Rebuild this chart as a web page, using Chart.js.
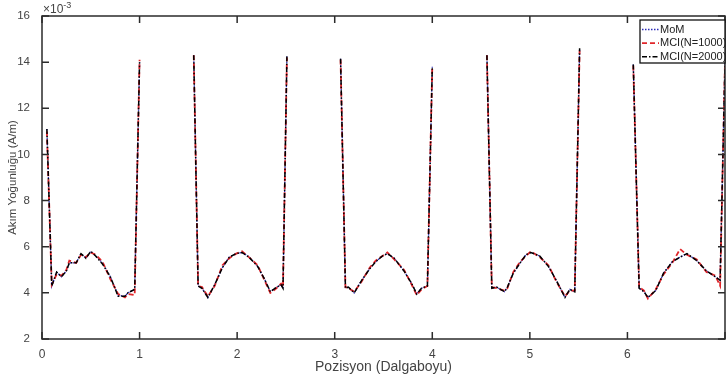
<!DOCTYPE html>
<html>
<head>
<meta charset="utf-8">
<script src="https://cdn.jsdelivr.net/npm/chart.js@4.4.0/dist/chart.umd.min.js"></script>
<style>
  html, body { margin: 0; padding: 0; background: #fff; }
  canvas { display: block; }
</style>
</head>
<body>
<canvas id="chart" width="726" height="378"></canvas>
<script>
// positions along the array (wavelengths); null rows split the five strips
const xPos = [
  0.05, 0.10, 0.15, 0.20, 0.25, 0.28, 0.35, 0.40, 0.45, 0.50, 0.55, 0.62, 0.70, 0.78, 0.85, 0.88, 0.95, 1.00,
  1.25,
  1.555, 1.60, 1.64, 1.70, 1.77, 1.85, 1.92, 1.99, 2.05, 2.12, 2.21, 2.28, 2.34, 2.39, 2.45, 2.47, 2.51,
  2.78,
  3.06, 3.11, 3.14, 3.20, 3.27, 3.36, 3.42, 3.49, 3.54, 3.61, 3.71, 3.79, 3.84, 3.89, 3.95, 4.00,
  4.28,
  4.56, 4.61, 4.66, 4.74, 4.77, 4.83, 4.90, 4.96, 5.01, 5.10, 5.19, 5.27, 5.36, 5.41, 5.46, 5.51,
  5.78,
  6.06, 6.12, 6.17, 6.21, 6.29, 6.37, 6.46, 6.54, 6.61, 6.71, 6.81, 6.90, 6.95, 7.00
];

// current density, x10^-3 A/m
const mom = [
  11.1, 4.3, 4.9, 4.7, 4.95, 5.3, 5.3, 5.7, 5.5, 5.8, 5.6, 5.3, 4.7, 3.9, 3.85, 4.0, 4.15, 14.0,
  null,
  14.3, 4.3, 4.2, 3.8, 4.35, 5.1, 5.55, 5.7, 5.75, 5.57, 5.15, 4.6, 4.05, 4.2, 4.35, 4.2, 14.25,
  null,
  14.15, 4.2, 4.25, 4.0, 4.5, 5.05, 5.35, 5.6, 5.7, 5.5, 4.95, 4.4, 3.95, 4.2, 4.3, 13.8,
  null,
  14.3, 4.2, 4.25, 4.05, 4.25, 4.85, 5.3, 5.65, 5.75, 5.6, 5.15, 4.55, 3.8, 4.15, 4.05, 14.6,
  null,
  13.9, 4.2, 4.05, 3.8, 4.1, 4.85, 5.35, 5.55, 5.7, 5.4, 4.95, 4.7, 4.55, 14.0
];

const mci1000 = [
  11.0, 4.35, 4.8, 4.75, 5.0, 5.4, 5.3, 5.65, 5.55, 5.75, 5.65, 5.35, 4.6, 3.95, 3.8, 3.95, 3.9, 14.1,
  null,
  14.3, 4.3, 4.25, 3.85, 4.3, 5.2, 5.5, 5.7, 5.8, 5.55, 5.2, 4.55, 4.0, 4.15, 4.4, 4.25, 14.2,
  null,
  14.1, 4.25, 4.2, 4.05, 4.45, 5.1, 5.4, 5.6, 5.75, 5.45, 5.0, 4.35, 3.9, 4.15, 4.3, 13.8,
  null,
  14.3, 4.25, 4.2, 4.1, 4.2, 4.9, 5.35, 5.6, 5.8, 5.55, 5.2, 4.5, 3.85, 4.1, 4.1, 14.5,
  null,
  13.85, 4.25, 4.1, 3.75, 4.15, 4.8, 5.3, 5.9, 5.65, 5.45, 4.9, 4.75, 4.3, 14.0
];

const mci2000 = [
  11.1, 4.3, 4.9, 4.7, 4.95, 5.3, 5.3, 5.7, 5.5, 5.8, 5.6, 5.25, 4.7, 3.85, 3.85, 4.0, 4.15, 14.0,
  null,
  14.3, 4.3, 4.2, 3.8, 4.35, 5.1, 5.55, 5.7, 5.75, 5.55, 5.15, 4.6, 4.05, 4.2, 4.35, 4.2, 14.25,
  null,
  14.15, 4.2, 4.25, 4.0, 4.5, 5.05, 5.35, 5.6, 5.7, 5.5, 4.95, 4.4, 3.95, 4.2, 4.3, 13.8,
  null,
  14.3, 4.2, 4.25, 4.05, 4.25, 4.85, 5.3, 5.65, 5.75, 5.6, 5.15, 4.55, 3.8, 4.15, 4.05, 14.6,
  null,
  13.9, 4.2, 4.05, 3.8, 4.1, 4.85, 5.35, 5.55, 5.7, 5.4, 4.95, 4.7, 4.55, 14.0
];

const seriesNames = ["MoM", "MCI(N=1000)", "MCI(N=2000)"];
const xTicks = [0, 1, 2, 3, 4, 5, 6, 7];
const yTicks = [2, 4, 6, 8, 10, 12, 14, 16];

const TEXT = "#444";
const AXIS = "#2b2b2b";
const FONT = "'Liberation Sans', Arial, sans-serif";

function pts(arr) {
  return xPos.map((x, i) => ({ x: x, y: arr[i] }));
}

// MATLAB-ish box: frame, inward ticks on all four sides, exponent, legend
const boxPlugin = {
  id: "matlabBox",
  afterDraw(chart) {
    const { ctx, chartArea: a, scales } = chart;
    const L = 7;
    ctx.save();
    ctx.strokeStyle = AXIS;
    ctx.lineWidth = 1.5;
    ctx.setLineDash([]);
    ctx.strokeRect(a.left, a.top, a.right - a.left, a.bottom - a.top);
    ctx.beginPath();
    scales.x.ticks.forEach((t) => {
      const px = scales.x.getPixelForValue(t.value);
      ctx.moveTo(px, a.bottom); ctx.lineTo(px, a.bottom - L);
      ctx.moveTo(px, a.top); ctx.lineTo(px, a.top + L);
    });
    scales.y.ticks.forEach((t) => {
      const py = scales.y.getPixelForValue(t.value);
      ctx.moveTo(a.left, py); ctx.lineTo(a.left + L, py);
      ctx.moveTo(a.right, py); ctx.lineTo(a.right - L, py);
    });
    ctx.stroke();

    // x10^-3 multiplier
    ctx.fillStyle = TEXT;
    ctx.textBaseline = "alphabetic";
    ctx.font = "12px " + FONT;
    ctx.fillText("\u00d710", a.left + 1, a.top - 3);
    const w = ctx.measureText("\u00d710").width;
    ctx.font = "9px " + FONT;
    ctx.fillText("-3", a.left + 1 + w, a.top - 8);

    // legend
    const lx = 640, ly = 20, lw = a.right - 640, lh = 43;
    ctx.fillStyle = "#fff";
    ctx.fillRect(lx, ly, lw, lh);
    ctx.lineWidth = 1.3;
    ctx.strokeStyle = "#111";
    ctx.strokeRect(lx, ly, lw, lh);
    ctx.font = "11px " + FONT;
    ctx.textBaseline = "middle";
    chart.data.datasets.forEach((ds, i) => {
      const yy = ly + 9.5 + i * 13.6;
      ctx.save();
      ctx.strokeStyle = ds.borderColor;
      ctx.lineWidth = ds.borderWidth;
      ctx.setLineDash(ds.borderDash || []);
      ctx.beginPath();
      ctx.moveTo(lx + 2, yy);
      ctx.lineTo(lx + 19, yy);
      ctx.stroke();
      ctx.restore();
      ctx.fillStyle = "#222";
      ctx.fillText(ds.label, lx + 20, yy);
    });
    ctx.restore();
  }
};

new Chart(document.getElementById("chart"), {
  type: "line",
  data: {
    datasets: [
      { label: seriesNames[0], data: pts(mom), borderColor: "#2b2bb8", borderWidth: 1.3, borderDash: [1.5, 1.5], order: 3 },
      { label: seriesNames[1], data: pts(mci1000), borderColor: "#e0262a", borderWidth: 1.8, borderDash: [5, 3], order: 2 },
      { label: seriesNames[2], data: pts(mci2000), borderColor: "#000", borderWidth: 1.5, borderDash: [5, 2, 1.5, 2], order: 1 }
    ]
  },
  options: {
    responsive: false,
    animation: false,
    spanGaps: false,
    elements: { point: { radius: 0 }, line: { tension: 0 } },
    layout: { padding: { top: 16, right: 1, left: 0, bottom: 0 } },
    plugins: { legend: { display: false }, tooltip: { enabled: false } },
    scales: {
      x: {
        type: "linear",
        min: 0,
        max: 7,
        afterBuildTicks: (s) => { s.ticks = xTicks.map((v) => ({ value: v })); },
        afterFit: (s) => { s.height = 39; },
        grid: { display: false },
        border: { display: false },
        ticks: {
          color: TEXT, padding: 0, maxRotation: 0,
          font: { family: FONT, size: 12 },
          callback: (v) => (v === 7 ? "" : v)
        },
        title: {
          display: true, text: "Pozisyon (Dalgaboyu)", color: TEXT,
          font: { family: FONT, size: 14 }, padding: { top: 0, bottom: 2 }
        }
      },
      y: {
        min: 2,
        max: 16,
        afterBuildTicks: (s) => { s.ticks = yTicks.map((v) => ({ value: v })); },
        afterFit: (s) => { s.width = 42; },
        grid: { display: false },
        border: { display: false },
        ticks: { color: TEXT, padding: 4, font: { family: FONT, size: 11.5 } },
        title: {
          display: true, text: "Akım Yoğunluğu (A/m)", color: TEXT,
          font: { family: FONT, size: 11.5 }, padding: { top: 6, bottom: 0 }
        }
      }
    }
  },
  plugins: [boxPlugin]
});
</script>
</body>
</html>
